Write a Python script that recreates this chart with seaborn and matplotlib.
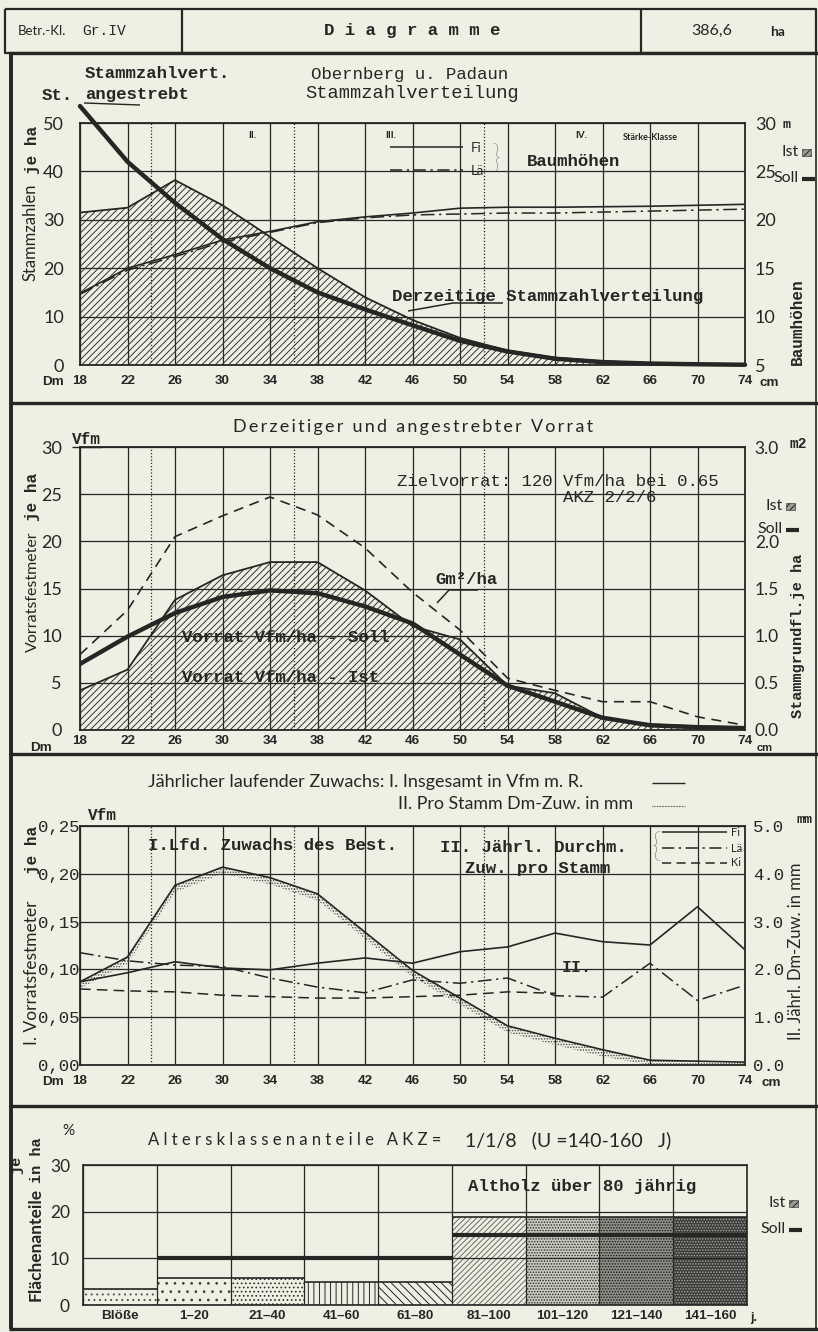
import numpy as np
import pandas as pd
import matplotlib
matplotlib.use("Agg")
import matplotlib.pyplot as plt
import seaborn as sns
from matplotlib.patches import Rectangle

# ------------------------------------------------------------------ data
dm = [18, 22, 26, 30, 34, 38, 42, 46, 50, 54, 58, 62, 66, 70, 74]
staerke_grenzen = [24, 36, 52]

# Panel 1: Stammzahlverteilung (Stück je ha) und Baumhöhen (m)
stammzahl_ist = [31.5, 32.5, 38.2, 33.0, 26.5, 20.0, 14.0, 9.3, 5.6, 3.0, 1.5, 0.8, 0.4, 0.3, 0.2]
stammzahl_soll = [53.5, 42.0, 33.5, 26.0, 20.0, 15.0, 11.5, 8.2, 5.0, 2.8, 1.3, 0.6, 0.3, 0.15, 0.05]
hoehe_fi = [12.4, 15.0, 16.4, 17.9, 18.8, 19.8, 20.3, 20.7, 21.2, 21.3, 21.3, 21.35, 21.4, 21.5, 21.6]
hoehe_lae = [12.3, 14.8, 16.2, 17.7, 18.7, 19.7, 20.2, 20.5, 20.6, 20.7, 20.7, 20.8, 20.9, 21.0, 21.1]
p1_ticks = [0, 10, 20, 30, 40, 50]
p1_rticks = [5, 10, 15, 20, 25, 30]

# Panel 2: Vorrat (Vfm/ha) und Stammgrundfläche (m2/ha)
vorrat_ist = [4.2, 6.4, 13.8, 16.4, 17.8, 17.8, 14.8, 11.0, 9.6, 4.7, 3.9, 1.3, 0.6, 0.4, 0.3]
vorrat_soll = [7.0, 9.9, 12.4, 14.1, 14.8, 14.5, 13.1, 11.3, 8.0, 4.7, 3.0, 1.3, 0.5, 0.3, 0.2]
grundflaeche = [0.80, 1.27, 2.05, 2.27, 2.47, 2.28, 1.93, 1.46, 1.06, 0.55, 0.42, 0.30, 0.30, 0.14, 0.05]
p2_ticks = [0, 5, 10, 15, 20, 25, 30]
p2_rticks = [0.0, 0.5, 1.0, 1.5, 2.0, 3.0]

# Panel 3: Zuwachs
zuwachs_gesamt = [0.087, 0.113, 0.188, 0.207, 0.196, 0.179, 0.139, 0.099, 0.070, 0.041, 0.028, 0.016, 0.005, 0.004, 0.003]
dmzuw_fi = [1.74, 1.93, 2.16, 2.03, 1.99, 2.13, 2.24, 2.13, 2.37, 2.47, 2.76, 2.58, 2.51, 3.31, 2.41]
dmzuw_lae = [2.35, 2.18, 2.09, 2.06, 1.82, 1.63, 1.51, 1.78, 1.71, 1.82, 1.45, 1.42, 2.13, 1.35, 1.67]
dm_ki = [18, 22, 26, 30, 34, 38, 42, 46, 50, 54, 58]
dmzuw_ki = [1.59, 1.55, 1.53, 1.46, 1.43, 1.40, 1.40, 1.43, 1.46, 1.53, 1.50]
p3_ticks = [0.00, 0.05, 0.10, 0.15, 0.20, 0.25]
p3_ticklabels = ["0,00", "0,05", "0,10", "0,15", "0,20", "0,25"]
p3_rticks = [0, 1, 2, 3, 4, 5]

# Panel 4: Altersklassenanteile (%)
altersklassen = ["Blöße", "1–20", "21–40", "41–60", "61–80", "81–100", "101–120", "121–140", "141–160"]
flaeche_ist = [3.5, 5.8, 5.8, 5.0, 5.0, 18.8, 18.8, 18.8, 18.8]
flaeche_soll = [np.nan, 10, 10, 10, 10, 15, 15, 15, 15]
p4_ticks = [0, 10, 20, 30]

# ------------------------------------------------------------------ style
W, H = 818, 1332
BG = "#eff0e4"
INK = "#262624"
HATCH = "#34342f"
SANS = ["Lato", "DejaVu Sans"]
MONO = ["Liberation Mono", "DejaVu Sans Mono"]

sns.set_theme(style="white")
plt.rcParams["font.family"] = SANS
plt.rcParams["hatch.linewidth"] = 0.7
plt.rcParams["axes.edgecolor"] = INK

fig = plt.figure(figsize=(W / 100, H / 100), dpi=100, facecolor=BG)


def rect(l, t, r, b):
    return [l / W, 1 - b / H, (r - l) / W, (b - t) / H]


XL, XR = 80, 745
ax1 = fig.add_axes(rect(XL, 123, XR, 365))
ax2 = fig.add_axes(rect(XL, 447, XR, 730))
ax3 = fig.add_axes(rect(XL, 826, XR, 1065))
ax4 = fig.add_axes(rect(83, 1165, 747, 1305))


def base_style(ax, ylim, yticks, yticklabels, ylab_size, ylab_fam, ypad, xpad):
    ax.set_facecolor(BG)
    ax.set_xlim(18, 74)
    ax.set_ylim(*ylim)
    ax.set_xticks(dm)
    ax.set_xticklabels([str(d) for d in dm], fontsize=9.7, fontweight="bold",
                       family=["Liberation Sans", "DejaVu Sans"])
    ax.set_yticks(yticks)
    ax.set_yticklabels(yticklabels, fontsize=ylab_size, family=ylab_fam)
    ax.tick_params(axis="both", length=0, colors=INK)
    ax.tick_params(axis="x", pad=xpad)
    ax.tick_params(axis="y", pad=ypad)
    ax.grid(True, color=INK, lw=0.9)
    ax.set_axisbelow(True)
    for s in ax.spines.values():
        s.set_color(INK)
        s.set_linewidth(1.3)
        s.set_visible(True)
    for b in staerke_grenzen:
        ax.axvline(b, color=INK, lw=0.9, ls=(0, (1, 1.6)), zorder=1)
    ax.set_xlabel("")
    ax.set_ylabel("")


def twin_style(axr, ylim, ticks, labels, size, fam, pad):
    axr.set_ylim(*ylim)
    axr.set_yticks(ticks)
    axr.set_yticklabels(labels, fontsize=size, family=fam)
    axr.tick_params(axis="y", length=0, pad=pad, colors=INK)
    axr.grid(False)
    for s in axr.spines.values():
        s.set_visible(False)
    axr.set_ylabel("")


# ---------------- Panel 1
ax1.fill_between(dm, 0, stammzahl_ist, facecolor="none", edgecolor=HATCH,
                 hatch="/////", lw=0, zorder=2)
sns.lineplot(x=dm, y=stammzahl_ist, ax=ax1, color=INK, lw=1.3, zorder=3)
sns.lineplot(x=dm, y=stammzahl_soll, ax=ax1, color=INK, lw=3.2, zorder=4, clip_on=False)
ax1r = ax1.twinx()
sns.lineplot(x=dm, y=hoehe_fi, ax=ax1r, color=INK, lw=1.2)
sns.lineplot(x=dm, y=hoehe_lae, ax=ax1r, color=INK, lw=1.1, linestyle=(0, (9, 3, 1.5, 3)))
base_style(ax1, (0, 50), p1_ticks, [str(t) for t in p1_ticks], 13, SANS, 11.5, 7.2)
twin_style(ax1r, (5, 30), p1_rticks, [str(t) for t in p1_rticks], 13, SANS, 7)
ax1r.set_xlim(18, 74)

# ---------------- Panel 2
ax2.fill_between(dm, 0, vorrat_ist, facecolor="none", edgecolor=HATCH,
                 hatch="/////", lw=0, zorder=2)
sns.lineplot(x=dm, y=vorrat_ist, ax=ax2, color=INK, lw=1.3, zorder=3)
sns.lineplot(x=dm, y=vorrat_soll, ax=ax2, color=INK, lw=3.2, zorder=4)
ax2r = ax2.twinx()
sns.lineplot(x=dm, y=grundflaeche, ax=ax2r, color=INK, lw=1.2, linestyle=(0, (6, 4)))
base_style(ax2, (0, 30), p2_ticks, [str(t) for t in p2_ticks], 13, SANS, 13, 3.6)
twin_style(ax2r, (0, 3.0), p2_rticks, [f"{t:.1f}" for t in p2_rticks], 12.5, SANS, 7)
ax2r.set_xlim(18, 74)

# ---------------- Panel 3
zg = np.array(zuwachs_gesamt)
ax3.fill_between(dm, np.maximum(zg - 0.007, 0), zg, facecolor="none", edgecolor="#4a4a46",
                 hatch="......", lw=0, zorder=2)
sns.lineplot(x=dm, y=zuwachs_gesamt, ax=ax3, color=INK, lw=1.2, zorder=3)
ax3r = ax3.twinx()
sns.lineplot(x=dm, y=dmzuw_fi, ax=ax3r, color=INK, lw=1.2)
sns.lineplot(x=dm, y=dmzuw_lae, ax=ax3r, color=INK, lw=1.1, linestyle=(0, (9, 3, 1.5, 3)))
sns.lineplot(x=dm_ki, y=dmzuw_ki, ax=ax3r, color=INK, lw=1.1, linestyle=(0, (7, 4)))
base_style(ax3, (0, 0.25), p3_ticks, p3_ticklabels, 12.5, MONO, 0.5, 7.2)
twin_style(ax3r, (0, 5), p3_rticks, [f"{t:.1f}" for t in p3_rticks], 12.5, MONO, 6)
ax3r.set_xlim(18, 74)

# ---------------- Panel 4
bar_styles = [
    (BG, "...", "#555550"),
    (BG, "..", "#3a3a36"),
    (BG, "....", "#2e2e2b"),
    (BG, "|||", "#262624"),
    (BG, "\\\\\\\\", "#262624"),
    (BG, "//////", "#6a6a64"),
    ("#c9c9c0", "......", "#2a2a28"),
    ("#8e8e88", "......", "#1c1c1a"),
    ("#3c3c3a", "......", "#a8a8a0"),
]
df4 = pd.DataFrame({"klasse": altersklassen, "ist": flaeche_ist})
sns.barplot(data=df4, x="klasse", y="ist", order=altersklassen, ax=ax4, width=1.0,
            color=BG, saturation=1, errorbar=None, linewidth=0)
for patch, (fc, hp, hc) in zip(ax4.patches, bar_styles):
    patch.set_facecolor(fc)
    patch.set_edgecolor(hc)
    patch.set_hatch(hp)
    patch.set_linewidth(0)
pos = np.arange(len(altersklassen))
ax4.hlines(flaeche_ist, pos - 0.5, pos + 0.5, color=INK, lw=1.2, zorder=4)
soll_mask = ~np.isnan(np.array(flaeche_soll, dtype=float))
ax4.hlines(np.array(flaeche_soll)[soll_mask], (pos - 0.5)[soll_mask], (pos + 0.5)[soll_mask],
           color=INK, lw=3.0, zorder=5)
ax4.set_facecolor(BG)
ax4.set_xlim(-0.5, len(altersklassen) - 0.5)
ax4.set_ylim(0, 30)
ax4.set_yticks(p4_ticks)
ax4.set_yticklabels([str(t) for t in p4_ticks], fontsize=12.5, family=SANS)
ax4.set_xticks(pos)
ax4.set_xticklabels(altersklassen, fontsize=9.7, fontweight="bold",
                    family=["Liberation Sans", "DejaVu Sans"])
ax4.set_xticks(np.arange(-0.5, len(altersklassen)), minor=True)
ax4.tick_params(which="both", length=0, colors=INK)
ax4.tick_params(axis="x", pad=3.6)
ax4.tick_params(axis="y", pad=9.4)
ax4.grid(True, which="major", axis="y", color=INK, lw=0.9)
ax4.grid(True, which="minor", axis="x", color=INK, lw=0.9)
ax4.set_axisbelow(False)
for s in ax4.spines.values():
    s.set_color(INK)
    s.set_linewidth(1.2)
    s.set_visible(True)
ax4.set_xlabel("")
ax4.set_ylabel("")

# ------------------------------------------------------------------ overlay (frame and texts in pixel coords)
ov = fig.add_axes([0, 0, 1, 1], zorder=20)
ov.set_xlim(0, W)
ov.set_ylim(H, 0)
ov.axis("off")


def T(x, y, s, size=10, fam=SANS, w="normal", ha="left", va="center", rot=0, **kw):
    ov.text(x, y, s, fontsize=size, family=fam, weight=w, ha=ha, va=va,
            rotation=rot, color=INK, **kw)


def L(xs, ys, lw=1.0, ls="-", **kw):
    ov.plot(xs, ys, color=INK, lw=lw, ls=ls, solid_capstyle="butt", **kw)


def spaced(s, n=1):
    return ("\u2009" * n).join(s)


# frame
L([5, 816, 816, 5, 5], [9, 9, 53, 53, 9], lw=1.6)
L([182, 182], [9, 53], lw=1.6)
L([641, 641], [9, 53], lw=1.6)
L([11, 11], [53, 1329], lw=2.8)
L([816, 816], [53, 1329], lw=1.2)
for yy in [53, 403, 754, 1106, 1329]:
    L([9, 818], [yy, yy], lw=2.4)

# header
T(18, 31, "Betr.-Kl.", 9.5, SANS)
T(82, 31, "Gr.IV", 10.5, MONO)
T(412, 30, "D i a g r a m m e", 12.5, MONO, w="bold", ha="center")
T(691, 31, "386,6", 11.5, SANS)
T(770, 32, "ha", 10, SANS, w="bold")

# panel 1 texts
T(85, 73, "Stammzahlvert.", 12.5, MONO, w="bold")
T(85, 94, "angestrebt", 12.5, MONO, w="bold")
T(42, 96, "St.", 12.5, MONO, w="bold")
L([84, 140], [103, 105], lw=1.0)
T(410, 74, "Obernberg u. Padaun", 12.5, MONO, ha="center")
T(412, 94, "Stammzahlverteilung", 13.5, MONO, ha="center")
T(248, 136, "II.", 7, SANS, w="bold")
T(385, 136, "III.", 7, SANS, w="bold")
T(575, 135, "IV.", 7, SANS, w="bold")
T(650, 138, "Stärke-Klasse", 6.5, SANS, w="bold", ha="center")
L([390, 463], [147, 147], lw=1.1)
L([390, 463], [170, 170], lw=1.1, ls=(0, (8, 3, 1.5, 3)))
T(471, 148, "Fi", 9.5, SANS)
T(471, 171, "Lä", 9.5, SANS)
T(496, 160, "}", 22, SANS, ha="center", w="light")
T(527, 161, "Baumhöhen", 12.5, MONO, w="bold")
T(392, 296, "Derzeitige Stammzahlverteilung", 12.5, MONO, w="bold")
L([408, 453, 503], [311, 303, 303], lw=1.1)
T(31, 232, "Stammzahlen", 12, SANS, rot=90, ha="center")
T(32, 150, "je ha", 11.5, MONO, w="bold", rot=90, ha="center")
T(797, 322, "Baumhöhen", 11.5, MONO, w="bold", rot=90, ha="center")
T(64, 382, "Dm", 9.7, ["Liberation Sans"], w="bold", ha="right")
T(759, 383, "cm", 9.7, ["Liberation Sans"], w="bold")
T(783, 125, "m", 9.5, MONO, w="bold")

# Ist / Soll keys
for (yi, ys, xt) in [(152, 178, 799), (506, 529, 783), (1203, 1229, 786)]:
    T(xt, yi, "Ist", 11.5, SANS, ha="right")
    ov.add_patch(Rectangle((xt + 3, yi - 3), 9, 7, facecolor="#9a9a94", edgecolor=INK,
                           hatch="/////", lw=0.4))
    T(xt, ys, "Soll", 11.5, SANS, ha="right")
    L([xt + 3, xt + 16], [ys + 1, ys + 1], lw=3)

# panel 2 texts
T(413, 427, spaced("Derzeitiger und angestrebter Vorrat"), 13, SANS, ha="center")
T(72, 439, "Vfm", 11.5, MONO, w="bold")
L([72, 102], [447, 447], lw=1.0)
T(397, 482, "Zielvorrat: 120 Vfm/ha bei 0.65", 12.5, MONO)
T(563, 497, "AKZ 2/2/6", 12.5, MONO)
T(435, 580, "Gm²/ha", 12.5, MONO, w="bold")
L([437, 449, 478], [603, 590, 590], lw=1.1)
T(182, 637, "Vorrat Vfm/ha - Soll", 12.5, MONO, w="bold")
T(182, 677, "Vorrat Vfm/ha - Ist", 12.5, MONO, w="bold")
T(33, 592, "Vorratsfestmeter", 11.5, SANS, rot=90, ha="center")
T(33, 497, "je ha", 11.5, MONO, w="bold", rot=90, ha="center")
T(798, 636, "Stammgrundfl.je ha", 11, MONO, w="bold", rot=90, ha="center")
T(52, 748, "Dm", 9.7, ["Liberation Sans"], w="bold", ha="right")
T(757, 748, "cm", 8, ["Liberation Sans"], w="bold")
T(790, 444, "m2", 10.5, MONO, w="bold")

# panel 3 texts
T(148, 782, "Jährlicher laufender Zuwachs: I. Insgesamt in Vfm m. R.", 13, SANS)
T(398, 804, "II. Pro Stamm Dm-Zuw. in mm", 12.8, SANS)
L([652, 685], [783, 783], lw=1.0)
L([652, 685], [806, 806], lw=0.8, ls=(0, (0.6, 0.8)))
T(88, 815, "Vfm", 11.5, MONO, w="bold")
T(148, 846, "I.Lfd. Zuwachs des Best.", 12.5, MONO, w="bold")
T(440, 847, "II. Jährl. Durchm.", 12.5, MONO, w="bold")
T(465, 868, "Zuw. pro Stamm", 12.5, MONO, w="bold")
T(562, 968, "II.", 12, MONO, w="bold")
T(656, 848, "{", 24, SANS, ha="center", w="light")
L([662, 727], [832, 832], lw=1.1)
L([662, 727], [848, 848], lw=1.1, ls=(0, (8, 3, 1.5, 3)))
L([662, 727], [863, 863], lw=1.1, ls=(0, (6, 3.5)))
T(731, 832, "Fi", 8, SANS)
T(731, 848, "Lä", 8, SANS)
T(731, 863, "Ki", 8, SANS)
T(32, 973, "I. Vorratsfestmeter", 12.5, SANS, rot=90, ha="center")
T(33, 850, "je ha", 11.5, MONO, w="bold", rot=90, ha="center")
T(796, 951, "II. Jährl. Dm-Zuw. in mm", 12, SANS, rot=90, ha="center")
T(64, 1082, "Dm", 9.7, ["Liberation Sans"], w="bold", ha="right")
T(762, 1083, "cm", 9.7, ["Liberation Sans"], w="bold")
T(797, 820, "mm", 9.5, MONO, w="bold")

# panel 4 texts
T(148, 1140, spaced("Altersklassenanteile", 2) + "   " + spaced("AKZ", 2) + " =", 12, SANS)
T(465, 1140, "1/1/8   (U =140-160   J)", 14, SANS)
T(468, 1187, "Altholz über 80 jährig", 12.5, MONO, w="bold")
T(62, 1131, "%", 11, SANS)
T(36, 1244, "Flächenanteile", 12.5, SANS, rot=90, ha="center", w="bold")
T(37, 1160, "in ha", 11, MONO, rot=90, ha="center", w="bold")
T(16, 1165, "je", 11, MONO, rot=90, ha="center", w="bold")
T(750, 1318, "j.", 9, ["Liberation Sans"], w="bold")

fig.savefig("out.png", dpi=100, facecolor=BG)
